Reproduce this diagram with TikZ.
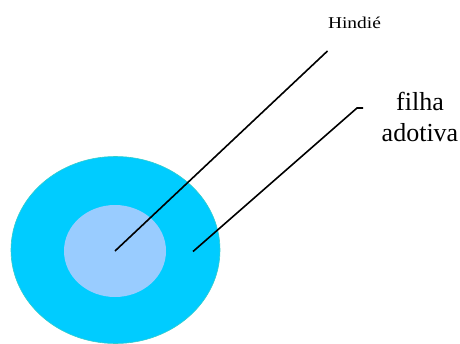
\documentclass[tikz,border=0pt]{standalone}
\usepackage{fontspec}
\setmainfont{Liberation Serif}
\usetikzlibrary{shapes.geometric}
\definecolor{ringblue}{HTML}{00CCFF}
\definecolor{coreblue}{HTML}{99CCFF}
\definecolor{ringedge}{HTML}{33CCCC}
\tikzset{
  disc/.style={ellipse, inner sep=0pt},
  pointer/.style={black, line width=1.6pt}
}
\begin{document}
\begin{tikzpicture}[x=1pt,y=-1pt]
			\useasboundingbox (0,0) rectangle (460,343);
			\node[disc, fill=ringblue, draw=ringedge, line width=0.6pt,
			      minimum width=209pt, minimum height=187pt] (outer) at (115.5,250) {};
			\node[disc, fill=coreblue, minimum width=102pt, minimum height=92pt] (inner) at (115,251) {};
			
			\coordinate (c) at (115,251);
			\coordinate (r) at (193,251.5);
			\coordinate (h) at (327.5,51);
			\coordinate (f) at (357,108);
			\coordinate (fend) at (363,108);
			
			\draw[pointer] (c) -- (h);
			\draw[pointer] (r) -- (f) -- (fend);
			
			\node[anchor=base, font=\fontsize{16.5}{20}\selectfont] (hindie) at (354.5,28.3) {\scalebox{1.18}[1]{Hindié}};
			\node[anchor=base, align=center, font=\fontsize{26}{30.3}\selectfont] (filha) at (420,141) {filha\\adotiva};
		\end{tikzpicture}
\end{document}
